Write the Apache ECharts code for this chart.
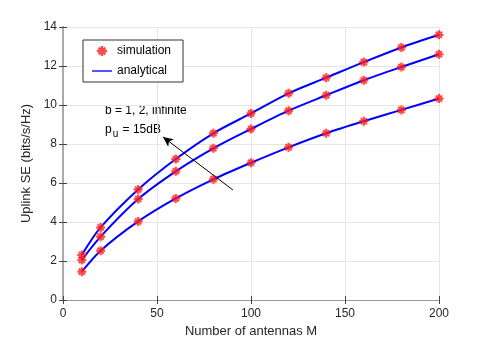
<!DOCTYPE html>
<html>
<head>
<meta charset="utf-8">
<script src="https://cdn.jsdelivr.net/npm/echarts@6/dist/echarts.min.js"></script>
<style>
  html, body { margin: 0; padding: 0; background: #fff; }
  #main { width: 485px; height: 346px; }
</style>
</head>
<body>
<div id="main"></div>
<script>
// number of antennas
var antennas = [10, 20, 40, 60, 80, 100, 120, 140, 160, 180, 200];
// uplink SE, b = infinite / 2 / 1
var seInf = [2.31, 3.72, 5.67, 7.23, 8.55, 9.57, 10.6, 11.4, 12.2, 12.95, 13.6];
var seB2 = [2.05, 3.25, 5.18, 6.6, 7.78, 8.77, 9.71, 10.5, 11.27, 11.95, 12.6];
var seB1 = [1.45, 2.53, 4.03, 5.21, 6.19, 7.04, 7.83, 8.55, 9.17, 9.75, 10.33];

var myChart = echarts.init(document.getElementById('main'));

var star = 'path://M-1.2,-5h2.4v10h-2.4z M-5,-1.2h10v2.4h-10z ' +
    'M-4.2,-2.6l1.6,-1.6l6.8,6.8l-1.6,1.6z M2.6,-4.2l1.6,1.6l-6.8,6.8l-1.6,-1.6z';
// legend icons: star padded to a wide box, plain line for the analytical curves
var starIcon = 'path://M-11,-5h0.01v10h-0.01z M11,-5h0.01v10h-0.01z ' +
    'M-1.2,-5h2.4v10h-2.4z M-5,-1.2h10v2.4h-10z ' +
    'M-4.2,-2.6l1.6,-1.6l6.8,6.8l-1.6,1.6z M2.6,-4.2l1.6,1.6l-6.8,6.8l-1.6,-1.6z';
var lineIcon = 'path://M0,0h30v2h-30z';

function pairs(ys) {
    return antennas.map(function (m, i) { return [m, ys[i]]; });
}

var font = 'Liberation Sans';
var series = [];
[seInf, seB2, seB1].forEach(function (ys) {
    series.push({
        name: 'analytical', type: 'line', smooth: 0.3, showSymbol: false, symbol: 'none',
        data: pairs(ys), lineStyle: { color: '#0000ff', width: 2 }, itemStyle: { color: '#0000ff' },
        z: 2
    });
    series.push({
        name: 'simulation', type: 'scatter', symbol: star, symbolSize: 9,
        data: pairs(ys), itemStyle: { color: '#ff1a1a' }, z: 3
    });
});
// annotation arrow
series.push({
    type: 'line', data: [], silent: true,
    markLine: {
        silent: true, symbol: ['none', 'arrow'], symbolSize: [7, 10],
        lineStyle: { color: '#000', width: 1, type: 'solid' }, label: { show: false },
        data: [[{ coord: [90.4, 5.64] }, { coord: [53.2, 8.36] }]]
    }
});

var option = {
    animation: false,
    textStyle: { fontFamily: font },
    grid: { left: 63, right: 46, top: 27, bottom: 46 },
    legend: {
        data: [
            { name: 'simulation', icon: 'path://M-1.2,-5h2.4v10h-2.4z M-5,-1.2h10v2.4h-10z M-4.2,-2.6l1.6,-1.6l6.8,6.8l-1.6,1.6z M2.6,-4.2l1.6,1.6l-6.8,6.8l-1.6,-1.6z', itemStyle: { color: '#ff1a1a' } },
            { name: 'analytical', icon: lineIcon, itemStyle: { color: '#0000ff' } }
        ],
        orient: 'vertical', left: 83, top: 40,
        backgroundColor: '#fff', borderColor: '#333', borderWidth: 1, borderRadius: 0,
        padding: [5, 12, 5, 9], itemGap: 8, itemWidth: 20, itemHeight: 10,
        textStyle: { fontFamily: font, fontSize: 12, color: '#000' }
    },
    xAxis: [{
        type: 'value', min: 0, max: 200, interval: 50,
        name: 'Number of antennas M', nameLocation: 'middle', nameGap: 23,
        nameTextStyle: { fontSize: 13, color: '#262626' },
        axisLine: { lineStyle: { color: '#888' } },
        axisTick: { inside: true, length: 4, lineStyle: { color: '#444' } },
        axisLabel: { fontSize: 12, color: '#262626', margin: 8 },
        splitLine: { show: true, lineStyle: { color: '#e6e6e6' } }
    }, {
        type: 'value', position: 'top', min: 0, max: 200, interval: 50,
        axisLine: { show: true, lineStyle: { color: '#999' } },
        axisTick: { show: true, inside: true, length: 4, lineStyle: { color: '#444' } },
        axisLabel: { show: false }, splitLine: { show: false }
    }],
    yAxis: [{
        type: 'value', min: 0, max: 14, interval: 2,
        name: 'Uplink SE (bits/s/Hz)', nameLocation: 'middle', nameGap: 25,
        nameTextStyle: { fontSize: 13, color: '#262626' },
        axisLine: { show: true, lineStyle: { color: '#888' } },
        axisTick: { show: true, inside: true, length: 4, lineStyle: { color: '#444' } },
        axisLabel: { fontSize: 12, color: '#262626', margin: 6 },
        splitLine: { show: true, lineStyle: { color: '#e6e6e6' } }
    }, {
        type: 'value', position: 'right', min: 0, max: 14, interval: 2,
        axisLine: { show: true, lineStyle: { color: '#aaa', width: 2 } },
        axisTick: { show: true, inside: true, length: 4, lineStyle: { color: '#444' } },
        axisLabel: { show: false }, splitLine: { show: false }
    }],
    graphic: [{
        type: 'text', left: 105, top: 105,
        style: { text: 'b = 1, 2, infinite', font: '12px "Liberation Sans"', fill: '#000' }
    }, {
        type: 'text', left: 105, top: 124,
        style: {
            text: '{p|p}{s|u}{p| = 15dB}',
            rich: {
                p: { fontFamily: font, fontSize: 12, color: '#000' },
                s: { fontFamily: font, fontSize: 10, color: '#000', verticalAlign: 'bottom', padding: [8, 1, 0, 1] }
            }
        }
    }],
    series: series
};

myChart.setOption(option);
</script>
</body>
</html>
